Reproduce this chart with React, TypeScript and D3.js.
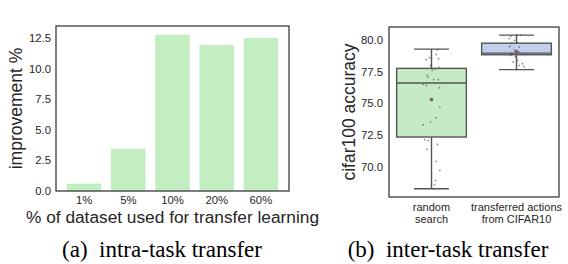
import React, { useEffect, useRef } from 'react';
import * as d3 from 'd3';

// (a) intra-task transfer
const fractions = ['1%', '5%', '10%', '20%', '60%'];
const improvement = [0.6, 3.45, 12.77, 11.93, 12.5];
const improvementTicks = [0, 2.5, 5, 7.5, 10, 12.5];

// (b) inter-task transfer
const groups = ['random search', 'transferred actions from CIFAR10'];
const groupLines = [['random', 'search'], ['transferred actions', 'from CIFAR10']];
const boxStats = [
  { low: 68.3, q1: 72.36, median: 76.6, q3: 77.75, high: 79.26, mean: 75.3 },
  { low: 77.65, q1: 78.82, median: 78.95, q3: 79.73, high: 80.36, mean: 79.08 },
];
const randomAcc = [79.2, 78.85, 78.59, 78.51, 78.43, 77.98, 77.85, 77.72, 77.59, 77.2, 77.07, 76.88, 76.86, 76.49, 76.41, 76.23, 74.71, 73.88, 73.53, 73.33, 72.15, 72.1, 71.78, 71.39, 70.45, 69.74, 68.96, 68.62, 68.3];
const randomJitter = [0.07, 0.055, -0.024, 0.082, -0.062, -0.012, 0.086, 0.039, 0.008, -0.051, -0.039, 0.027, 0.082, -0.098, -0.059, 0.094, 0.098, 0.051, -0.012, -0.098, -0.079, -0.039, 0.071, -0.051, 0.055, 0.098, 0.047, 0.035, 0.027];
const transferAcc = [80.39, 80.36, 80.26, 80.08, 79.95, 79.81, 79.73, 79.47, 79.42, 79.21, 79.03, 78.9, 78.85, 78.77, 78.64, 78.38, 78.25, 78.12, 77.98, 77.9, 77.65];
const transferJitter = [0.004, 0.051, -0.067, -0.086, -0.024, 0.004, -0.055, -0.079, 0.032, -0.027, 0.032, -0.055, 0.071, -0.067, -0.015, 0.012, -0.039, 0.071, 0.032, 0.09, 0];
const accuracyTicks = [70, 72.5, 75, 77.5, 80];

const W = 568;
const H = 264;
const TEXT = '#262626';
const SANS = '"Liberation Sans", Arial, sans-serif';

export default function App() {
  const svgRef = useRef<SVGSVGElement>(null);

  useEffect(() => {
    if (!svgRef.current) return;
    const svg = d3.select(svgRef.current);
    svg.selectAll('*').remove();

    // ---------- panel (a) ----------
    const a = { left: 56, right: 289, top: 26, bottom: 191 };
    const xa = d3.scaleBand<string>().domain(fractions).range([a.left + 6, a.right - 6]).paddingInner(0.22).paddingOuter(0.11);
    const ya = d3.scaleLinear().domain([0, 13.48]).range([a.bottom, a.top]);

    svg.append('g')
      .selectAll('rect')
      .data(improvement)
      .join('rect')
      .attr('x', (_, i) => xa(fractions[i])!)
      .attr('width', xa.bandwidth())
      .attr('y', d => ya(d))
      .attr('height', d => ya(0) - ya(d))
      .attr('fill', '#c2eec1');

    svg.append('rect')
      .attr('x', a.left).attr('y', a.top)
      .attr('width', a.right - a.left).attr('height', a.bottom - a.top)
      .attr('fill', 'none').attr('stroke', '#333').attr('stroke-width', 1.25);

    svg.append('g')
      .selectAll('text')
      .data(improvementTicks)
      .join('text')
      .attr('x', a.left - 5)
      .attr('y', d => ya(d))
      .attr('dy', '0.35em')
      .attr('text-anchor', 'end')
      .attr('font-family', SANS).attr('font-size', 11.3).attr('fill', TEXT)
      .text(d => d.toFixed(1));

    svg.append('g')
      .selectAll('text')
      .data(fractions)
      .join('text')
      .attr('x', d => xa(d)! + xa.bandwidth() / 2)
      .attr('y', a.bottom + 13)
      .attr('text-anchor', 'middle')
      .attr('font-family', SANS).attr('font-size', 11.3).attr('fill', TEXT)
      .text(d => d);

    svg.append('text')
      .attr('x', (a.left + a.right) / 2).attr('y', a.bottom + 32)
      .attr('text-anchor', 'middle')
      .attr('font-family', SANS).attr('font-size', 17.3).attr('fill', TEXT)
      .text('% of dataset used for transfer learning');

    svg.append('text')
      .attr('transform', `translate(22,${(a.top + a.bottom) / 2}) rotate(-90)`)
      .attr('text-anchor', 'middle')
      .attr('font-family', SANS).attr('font-size', 17.5).attr('fill', TEXT)
      .text('improvement %');

    // ---------- panel (b) ----------
    const b = { left: 389, right: 559, top: 27, bottom: 197 };
    const xb = d3.scaleBand<string>().domain(groups).range([b.left, b.right]);
    const yb = d3.scaleLinear().domain([67.65, 81.0]).range([b.bottom, b.top]);
    const boxW = xb.bandwidth() * 0.82;
    const fills = ['#c6eac5', '#c3cfec'];
    const edge = '#555';

    boxStats.forEach((s, i) => {
      const cx = xb(groups[i])! + xb.bandwidth() / 2;
      const g = svg.append('g');
      g.append('line').attr('x1', cx).attr('x2', cx).attr('y1', yb(s.high)).attr('y2', yb(s.q3))
        .attr('stroke', edge).attr('stroke-width', 1.4);
      g.append('line').attr('x1', cx).attr('x2', cx).attr('y1', yb(s.q1)).attr('y2', yb(s.low))
        .attr('stroke', edge).attr('stroke-width', 1.4);
      [s.high, s.low].forEach(v => {
        g.append('line').attr('x1', cx - boxW / 4).attr('x2', cx + boxW / 4)
          .attr('y1', yb(v)).attr('y2', yb(v)).attr('stroke', edge).attr('stroke-width', 1.4);
      });
      g.append('rect').attr('x', cx - boxW / 2).attr('width', boxW)
        .attr('y', yb(s.q3)).attr('height', yb(s.q1) - yb(s.q3))
        .attr('fill', fills[i]).attr('stroke', edge).attr('stroke-width', 1.4);
      g.append('line').attr('x1', cx - boxW / 2).attr('x2', cx + boxW / 2)
        .attr('y1', yb(s.median)).attr('y2', yb(s.median)).attr('stroke', edge).attr('stroke-width', 1.4);
    });

    const strips = [
      { vals: randomAcc, jit: randomJitter },
      { vals: transferAcc, jit: transferJitter },
    ];
    strips.forEach((st, i) => {
      const cx = xb(groups[i])! + xb.bandwidth() / 2;
      svg.append('g')
        .selectAll('circle')
        .data(st.vals)
        .join('circle')
        .attr('cx', (_, j) => cx + st.jit[j] * xb.bandwidth())
        .attr('cy', d => yb(d))
        .attr('r', 0.9)
        .attr('fill', '#444')
        .attr('opacity', 0.6);
      svg.append('circle')
        .attr('cx', cx).attr('cy', yb(boxStats[i].mean))
        .attr('r', 1.8).attr('fill', '#6a4a4a').attr('opacity', 0.85);
    });

    svg.append('rect')
      .attr('x', b.left).attr('y', b.top)
      .attr('width', b.right - b.left).attr('height', b.bottom - b.top)
      .attr('fill', 'none').attr('stroke', '#333').attr('stroke-width', 1.25);

    svg.append('g')
      .selectAll('text')
      .data(accuracyTicks)
      .join('text')
      .attr('x', b.left - 6)
      .attr('y', d => yb(d))
      .attr('dy', '0.35em')
      .attr('text-anchor', 'end')
      .attr('font-family', SANS).attr('font-size', 11.3).attr('fill', TEXT)
      .text(d => d.toFixed(1));

    groupLines.forEach((lines, i) => {
      const cx = xb(groups[i])! + xb.bandwidth() / 2;
      const t = svg.append('text')
        .attr('text-anchor', 'middle')
        .attr('font-family', SANS).attr('font-size', 11).attr('fill', TEXT);
      lines.forEach((ln, k) => {
        t.append('tspan').attr('x', cx).attr('y', b.bottom + 14 + k * 12).text(ln);
      });
    });

    svg.append('text')
      .attr('transform', `translate(355,${(b.top + b.bottom) / 2}) rotate(-90)`)
      .attr('text-anchor', 'middle')
      .attr('font-family', SANS).attr('font-size', 17.5).attr('fill', TEXT)
      .text('cifar100 accuracy');

    // captions
    const captions = [
      { text: '(a)\u00a0\u00a0intra-task transfer', x: 162 },
      { text: '(b)\u00a0\u00a0inter-task transfer', x: 448 },
    ];
    svg.append('g')
      .selectAll('text')
      .data(captions)
      .join('text')
      .attr('x', d => d.x)
      .attr('y', 257)
      .attr('text-anchor', 'middle')
      .attr('font-family', '"Liberation Serif", "Times New Roman", serif')
      .attr('font-size', 23)
      .attr('fill', '#000')
      .text(d => d.text);
  }, []);

  return (
    <div style={{ position: 'absolute', left: 0, top: 0, background: '#fff' }}>
      <svg ref={svgRef} width={W} height={H} style={{ display: 'block' }} />
    </div>
  );
}
